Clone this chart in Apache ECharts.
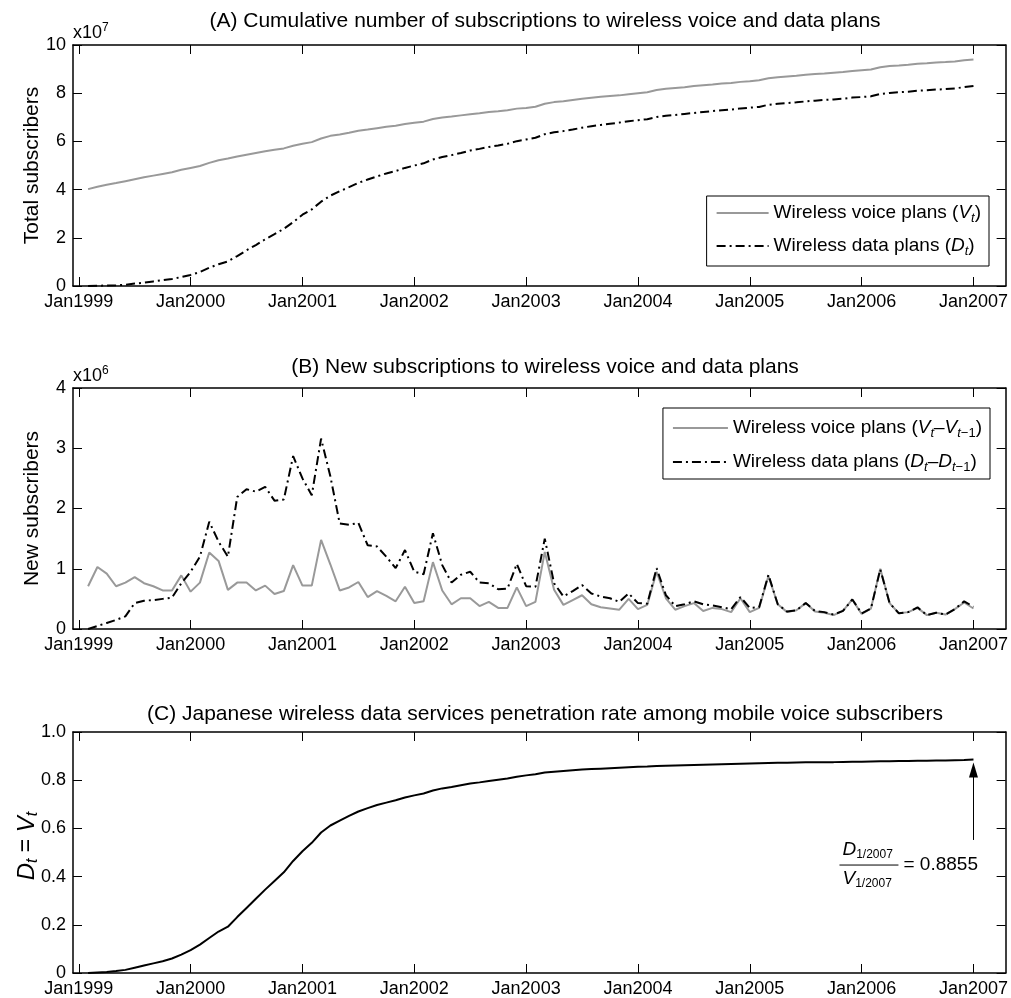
<!DOCTYPE html>
<html>
<head>
<meta charset="utf-8">
<script src="https://cdn.jsdelivr.net/npm/echarts@6/dist/echarts.min.js"></script>
<style>html,body{margin:0;padding:0;background:#fff}#c{width:1011px;height:998px}</style>
</head>
<body>
<div id="c"></div>
<script>
// Month index: 0 = Jan 1999 ... 96 = Jan 2007. Series begin at month 1 (Feb 1999).
const firstMonth = 1;
const tickMonths = [0, 12, 24, 36, 48, 60, 72, 84, 96];
const tickLabels = ['Jan1999','Jan2000','Jan2001','Jan2002','Jan2003','Jan2004','Jan2005','Jan2006','Jan2007'];

// Panel A: cumulative subscribers (x10^7)
const voiceCum = [
 4.02,4.12,4.20,4.27,4.35,4.43,4.51,4.58,4.65,4.72,4.82,4.90,
 4.98,5.11,5.22,5.29,5.37,5.45,5.52,5.59,5.65,5.71,5.82,5.90,
 5.97,6.12,6.23,6.29,6.36,6.44,6.49,6.55,6.61,6.65,6.72,6.77,
 6.82,6.93,6.99,7.03,7.08,7.13,7.17,7.22,7.25,7.29,7.36,7.39,
 7.44,7.56,7.63,7.67,7.72,7.77,7.81,7.85,7.88,7.91,7.96,8.00,
 8.04,8.13,8.18,8.22,8.25,8.30,8.33,8.36,8.40,8.42,8.47,8.50,
 8.54,8.62,8.66,8.69,8.72,8.77,8.80,8.82,8.85,8.88,8.92,8.95,
 8.98,9.08,9.13,9.15,9.18,9.22,9.24,9.27,9.29,9.32,9.37,9.40];
const dataCum = [
 0.00,0.01,0.02,0.03,0.05,0.10,0.14,0.19,0.24,0.29,0.37,0.46,
 0.58,0.76,0.90,1.02,1.24,1.48,1.70,1.94,2.15,2.37,2.65,2.96,
 3.18,3.50,3.75,3.93,4.10,4.28,4.42,4.55,4.67,4.77,4.90,5.00,
 5.09,5.25,5.35,5.43,5.52,5.62,5.69,5.77,5.83,5.90,6.01,6.08,
 6.15,6.30,6.38,6.43,6.49,6.57,6.63,6.68,6.73,6.78,6.84,6.88,
 6.92,7.01,7.06,7.10,7.14,7.18,7.22,7.26,7.29,7.32,7.37,7.40,
 7.43,7.52,7.56,7.59,7.62,7.66,7.69,7.72,7.74,7.77,7.82,7.84,
 7.87,7.97,8.01,8.04,8.06,8.10,8.12,8.15,8.17,8.20,8.25,8.30];

// Panel B: new subscribers (x10^6)
const voiceNew = [
 0.71,1.03,0.92,0.71,0.77,0.86,0.76,0.71,0.64,0.64,0.89,0.62,
 0.77,1.27,1.13,0.65,0.77,0.77,0.64,0.72,0.58,0.63,1.06,0.72,
 0.72,1.48,1.07,0.64,0.69,0.78,0.53,0.63,0.55,0.46,0.70,0.43,
 0.46,1.11,0.64,0.41,0.51,0.51,0.38,0.45,0.35,0.35,0.69,0.38,
 0.45,1.28,0.65,0.40,0.48,0.56,0.41,0.36,0.34,0.32,0.50,0.33,
 0.40,0.95,0.51,0.32,0.38,0.43,0.30,0.35,0.33,0.28,0.51,0.28,
 0.35,0.88,0.41,0.28,0.31,0.43,0.29,0.27,0.23,0.30,0.49,0.25,
 0.34,1.00,0.43,0.26,0.28,0.35,0.23,0.27,0.24,0.33,0.44,0.34];
const dataNew = [
 0.00,0.05,0.10,0.15,0.21,0.43,0.47,0.48,0.50,0.52,0.76,0.95,
 1.20,1.78,1.45,1.20,2.19,2.32,2.28,2.36,2.13,2.15,2.87,2.50,
 2.22,3.16,2.53,1.75,1.73,1.76,1.39,1.37,1.20,1.01,1.31,0.95,
 0.91,1.59,1.06,0.77,0.90,0.95,0.77,0.76,0.66,0.67,1.08,0.71,
 0.70,1.50,0.76,0.54,0.63,0.73,0.59,0.54,0.51,0.45,0.59,0.43,
 0.42,1.01,0.56,0.38,0.41,0.46,0.41,0.39,0.36,0.33,0.53,0.35,
 0.36,0.90,0.41,0.29,0.31,0.43,0.30,0.28,0.24,0.30,0.49,0.26,
 0.34,0.99,0.43,0.26,0.28,0.36,0.23,0.27,0.24,0.33,0.46,0.37];

// Panel C: penetration rate D_t / V_t
const ratio = [
 0.000,0.002,0.004,0.008,0.013,0.022,0.031,0.040,0.049,0.060,0.076,0.095,
 0.118,0.145,0.172,0.192,0.232,0.270,0.308,0.346,0.382,0.418,0.465,0.505,
 0.540,0.583,0.612,0.632,0.652,0.670,0.684,0.697,0.707,0.717,0.728,0.737,
 0.745,0.757,0.766,0.772,0.779,0.786,0.791,0.797,0.802,0.807,0.814,0.820,
 0.825,0.832,0.835,0.838,0.841,0.844,0.846,0.848,0.850,0.852,0.854,0.856,
 0.857,0.859,0.860,0.861,0.862,0.863,0.864,0.865,0.866,0.867,0.868,0.869,
 0.870,0.871,0.872,0.872,0.873,0.874,0.874,0.875,0.875,0.876,0.877,0.877,
 0.878,0.879,0.879,0.880,0.880,0.881,0.881,0.882,0.882,0.883,0.884,0.8855];
const finalRatioLabel = '0.8855';
const arrowFrom = 0.552, arrowTo = 0.842;

const FONT = '"Liberation Sans", Arial, Helvetica, sans-serif';
const pairs = arr => arr.map((v, i) => [firstMonth + i, v]);
const tok = (size, extra) => Object.assign({fontSize: size, fontFamily: FONT, color: '#000', fontWeight: 'normal'}, extra || {});
const richLegend = {
  n: tok(19, {lineHeight: 24}),
  i: tok(19, {fontStyle: 'italic', lineHeight: 24}),
  s: tok(13, {fontStyle: 'italic', lineHeight: 13, verticalAlign: 'bottom'}),
  s2: tok(13, {lineHeight: 13, verticalAlign: 'bottom'})
};
const richExp = {
  n: tok(18, {lineHeight: 22}),
  sup: tok(12, {lineHeight: 12, verticalAlign: 'top'})
};

const grids = [
  {left: 73, width: 935, top: 45, height: 241},
  {left: 73, width: 935, top: 388, height: 241},
  {left: 73, width: 935, top: 732, height: 241}
];
const lineAx = {show: true, onZero: false, lineStyle: {color: '#000', width: 1.5}};
const xAxes = [], yAxes = [];
const yCfg = [
  {max: 10, interval: 2, fmt: v => String(v), name: 'Total subscribers', gap: 30},
  {max: 4, interval: 1, fmt: v => String(v), name: 'New subscribers', gap: 30},
  {max: 1, interval: 0.2, fmt: v => v === 0 ? '0' : v.toFixed(1), name: '{cn|  }{ci|D}{cs|t}{cn| = }{ci|V}{cs|t}', gap: 32}
];
for (let g = 0; g < 3; g++) {
  ['bottom', 'top'].forEach(pos => {
    xAxes.push({
      type: 'value', gridIndex: g, position: pos, min: -0.62, max: 99.45,
      axisLine: lineAx,
      axisTick: {show: true, inside: true, length: 9, customValues: tickMonths, lineStyle: {color: '#000', width: 1}},
      axisLabel: {show: pos === 'bottom', customValues: tickMonths, color: '#000', fontSize: 18, fontFamily: FONT, margin: 7,
        formatter: v => tickLabels[tickMonths.indexOf(Math.round(v))] || ''},
      splitLine: {show: false}
    });
  });
  ['left', 'right'].forEach(pos => {
    const c = yCfg[g];
    yAxes.push({
      type: 'value', gridIndex: g, position: pos, min: 0, max: c.max, interval: c.interval,
      axisLine: lineAx,
      axisTick: {show: true, inside: true, length: 9, lineStyle: {color: '#000', width: 1}},
      axisLabel: {show: pos === 'left', color: '#000', fontSize: 18, fontFamily: FONT, margin: 7, formatter: c.fmt},
      splitLine: {show: false},
      name: pos === 'left' ? c.name : '',
      nameLocation: 'middle', nameGap: c.gap, nameRotate: 90, nameMoveOverlap: false,
      nameTextStyle: {fontSize: 21, fontFamily: FONT, color: '#000',
        rich: {
          ci: tok(24, {fontStyle: 'italic', lineHeight: 28}),
          cn: tok(23, {lineHeight: 28}),
          cs: tok(16, {fontStyle: 'italic', lineHeight: 16, verticalAlign: 'bottom'})
        }}
    });
  });
}

const dashDot = [9, 4, 2, 4];
const legendNames = {
  vA: 'Wireless voice plans ({i|V}{s|t}{n|)}',
  dA: 'Wireless data plans ({i|D}{s|t}{n|)}',
  vB: 'Wireless voice plans ({i|V}{s|t}{n|\u2013}{i|V}{s|t}{s2|\u22121}{n|)}',
  dB: 'Wireless data plans ({i|D}{s|t}{n|\u2013}{i|D}{s|t}{s2|\u22121}{n|)}'
};
const legendBase = {
  orient: 'vertical', itemWidth: 52, itemHeight: 14, itemGap: 9,
  borderColor: '#000', borderWidth: 1, backgroundColor: '#fff', borderRadius: 0,
  itemStyle: {color: 'rgba(0,0,0,0)', borderWidth: 0, opacity: 0},
  formatter: name => {
    const s = legendNames[name];
    const k = s.indexOf('{');
    return '{n|' + s.slice(0, k) + '}' + s.slice(k);
  },
  textStyle: {fontSize: 19, fontFamily: FONT, color: '#000', lineHeight: 24, rich: richLegend}
};

const titleStyle = {fontSize: 21, fontFamily: FONT, color: '#000', fontWeight: 'normal'};
const option = {
  animation: false,
  backgroundColor: '#fff',
  title: [
    {text: '(A) Cumulative number of subscriptions to wireless voice and data plans', left: 540, top: 6, textAlign: 'center', textStyle: titleStyle},
    {text: '(B) New subscriptions to wireless voice and data plans', left: 540, top: 352, textAlign: 'center', textStyle: titleStyle},
    {text: '(C) Japanese wireless data services penetration rate among mobile voice subscribers', left: 540, top: 699, textAlign: 'center', textStyle: titleStyle},
    {text: '{n|x10}{sup|7}', left: 68, top: 17, textStyle: {fontWeight: 'normal', rich: richExp}},
    {text: '{n|x10}{sup|6}', left: 68, top: 360, textStyle: {fontWeight: 'normal', rich: richExp}}
  ],
  grid: grids,
  xAxis: xAxes,
  yAxis: yAxes,
  legend: [
    Object.assign({}, legendBase, {data: ['vA', 'dA'], right: 22, top: 196, padding: [5, 8, 8, 9]}),
    Object.assign({}, legendBase, {data: ['vB', 'dB'], right: 21, top: 408, itemWidth: 55, itemGap: 10, padding: [8, 8, 5, 9]})
  ],
  series: [
    {name: 'vA', type: 'line', xAxisIndex: 0, yAxisIndex: 0, data: pairs(voiceCum), showSymbol: false, symbol: 'none',
      lineStyle: {color: '#999', width: 2}, itemStyle: {color: '#999'}},
    {name: 'dA', type: 'line', xAxisIndex: 0, yAxisIndex: 0, data: pairs(dataCum), showSymbol: false, symbol: 'none',
      lineStyle: {color: '#000', width: 2, type: dashDot}, itemStyle: {color: '#000'}},
    {name: 'vB', type: 'line', xAxisIndex: 2, yAxisIndex: 2, data: pairs(voiceNew), showSymbol: false, symbol: 'none',
      lineStyle: {color: '#999', width: 2}, itemStyle: {color: '#999'}},
    {name: 'dB', type: 'line', xAxisIndex: 2, yAxisIndex: 2, data: pairs(dataNew), showSymbol: false, symbol: 'none',
      lineStyle: {color: '#000', width: 2, type: dashDot}, itemStyle: {color: '#000'}},
    {name: 'ratio', type: 'line', xAxisIndex: 4, yAxisIndex: 4, data: pairs(ratio), showSymbol: false, symbol: 'none',
      lineStyle: {color: '#000', width: 2}, itemStyle: {color: '#000'},
      markLine: {silent: true, animation: false, symbol: ['none', 'triangle'], symbolSize: [9, 15],
        lineStyle: {color: '#000', width: 1, type: 'solid'}, label: {show: false},
        data: [[{coord: [96, arrowFrom]}, {coord: [96, arrowTo]}]]}}
  ]
};

const chart = echarts.init(document.getElementById('c'), null, {renderer: 'canvas'});
chart.setOption(option);

// Fraction annotation anchored in data space of panel C
const p = chart.convertToPixel({gridIndex: 2}, [96, 0.448]);
const annRich = {
  i: {fontSize: 19, fontFamily: FONT, fontStyle: 'italic', fill: '#000', lineHeight: 22},
  s: {fontSize: 12, fontFamily: FONT, fill: '#000', lineHeight: 12, verticalAlign: 'bottom'},
  n: {fontSize: 19, fontFamily: FONT, fill: '#000', lineHeight: 22}
};
chart.setOption({
  graphic: [
    {type: 'text', x: p[0] - 131, y: p[1] - 26, style: {text: '{i|D}{s|1/2007}', rich: annRich}},
    {type: 'line', shape: {x1: p[0] - 134, y1: p[1], x2: p[0] - 75, y2: p[1]}, style: {stroke: '#000', lineWidth: 1}},
    {type: 'text', x: p[0] - 131, y: p[1] + 3, style: {text: '{i|V}{s|1/2007}', rich: annRich}},
    {type: 'text', x: p[0] - 70, y: p[1] - 11, style: {text: '{n|= ' + finalRatioLabel + '}', rich: annRich}}
  ]
});
</script>
</body>
</html>
